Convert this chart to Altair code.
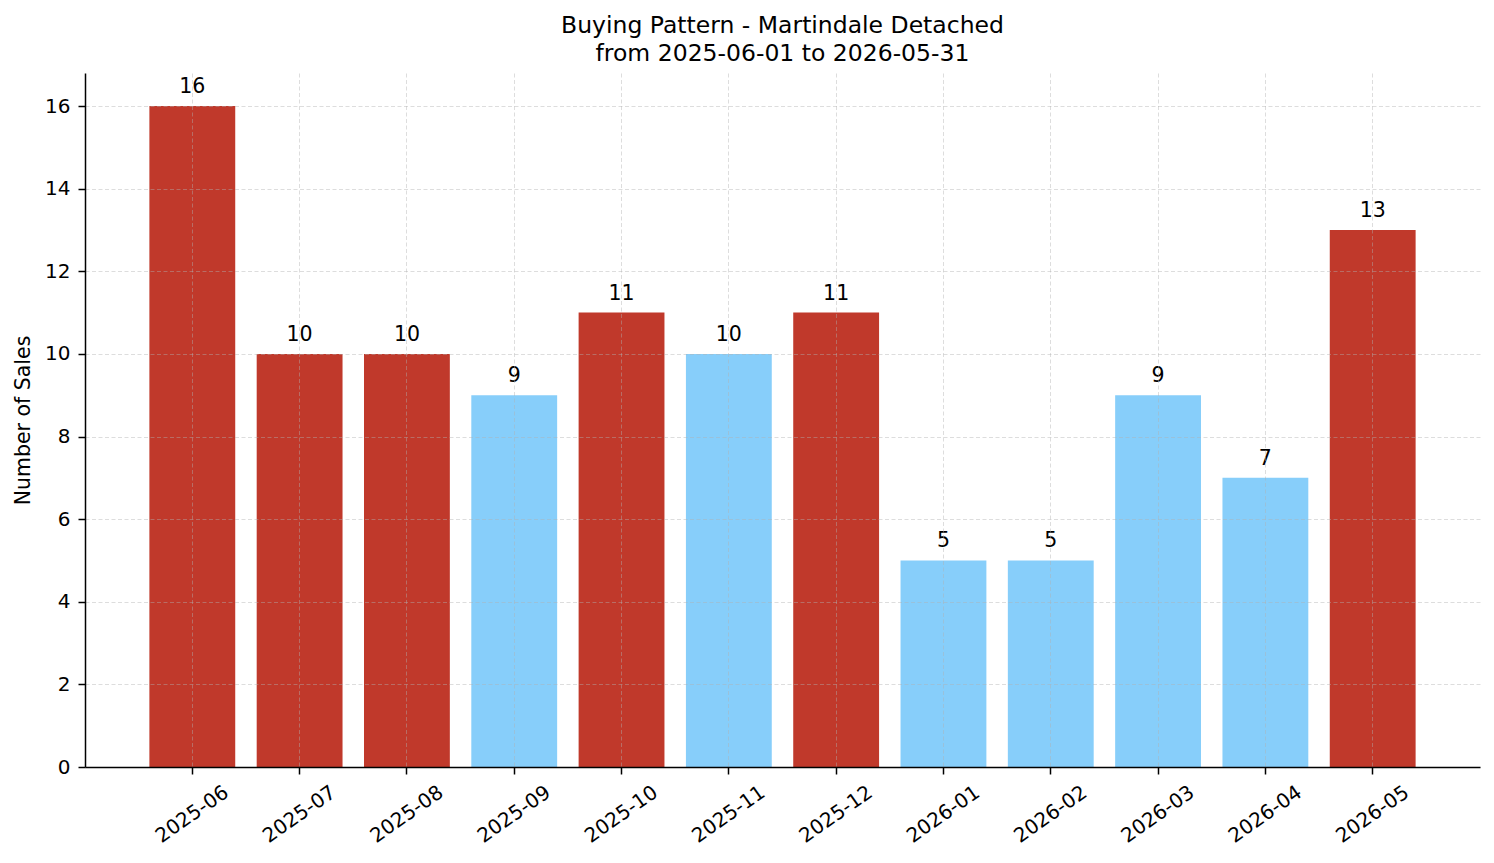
import altair as alt
import pandas as pd

months = ["2025-06", "2025-07", "2025-08", "2025-09", "2025-10", "2025-11",
          "2025-12", "2026-01", "2026-02", "2026-03", "2026-04", "2026-05"]
sales = [16, 10, 10, 9, 11, 10, 11, 5, 5, 9, 7, 13]
bar_colors = ["#c0392b", "#c0392b", "#c0392b", "#87cefa", "#c0392b", "#87cefa",
              "#c0392b", "#87cefa", "#87cefa", "#87cefa", "#87cefa", "#c0392b"]
y_ticks = [0, 2, 4, 6, 8, 10, 12, 14, 16]

df = pd.DataFrame({"month": months, "sales": sales, "color": bar_colors})

FONT = "DejaVu Sans"

x = alt.X(
    "month:N", sort=months, title=None,
    scale=alt.Scale(paddingInner=0.2, paddingOuter=0.6),
    axis=alt.Axis(
        labelAngle=325, labelAlign="center", labelBaseline="middle",
        labelPadding=40, tickSize=7, bandPosition=0.5, grid=True,
        labelFontSize=20, labelFont=FONT, labelColor="#000",
        zindex=1,
    ),
)
y = alt.Y(
    "sales:Q", title="Number of Sales",
    scale=alt.Scale(domain=[0, 16.8], nice=False, zero=True),
    axis=alt.Axis(
        values=y_ticks, tickSize=7, labelPadding=8, grid=True,
        labelFontSize=20, labelFont=FONT, labelColor="#000",
        titleFontSize=20.5, titleFont=FONT, titleFontWeight="normal", titleColor="#000",
        titleAngle=270, titleX=-62, titleY=347, titleAlign="center", titleBaseline="middle",
        zindex=1,
    ),
)

bars = alt.Chart(df).mark_bar().encode(
    x=x, y=y, color=alt.Color("color:N", scale=None)
)
labels = alt.Chart(df).mark_text(
    dy=-13, baseline="alphabetic", fontSize=20.5, font=FONT, color="#000"
).encode(x=alt.X("month:N", sort=months), y="sales:Q", text="sales:Q")

chart = alt.layer(bars, labels).properties(
    width=1395, height=694,
    title=alt.TitleParams(
        ["Buying Pattern - Martindale Detached", "from 2025-06-01 to 2026-05-31"],
        fontSize=23.5, font=FONT, fontWeight="normal", anchor="middle",
        lineHeight=28, offset=8, color="#000",
    ),
    autosize=alt.AutoSizeParams(type="none"),
    padding={"left": 85, "top": 73, "right": 14, "bottom": 96},
).configure_view(stroke=None).configure_axis(
    domainColor="#000", domainWidth=1.5, tickColor="#000", tickWidth=1.5,
    gridColor="#b0b0b0", gridOpacity=0.55, gridDash=[4, 2.5], gridWidth=0.8,
)

chart.save("out.html", embed_options={"renderer": "svg", "actions": False})
